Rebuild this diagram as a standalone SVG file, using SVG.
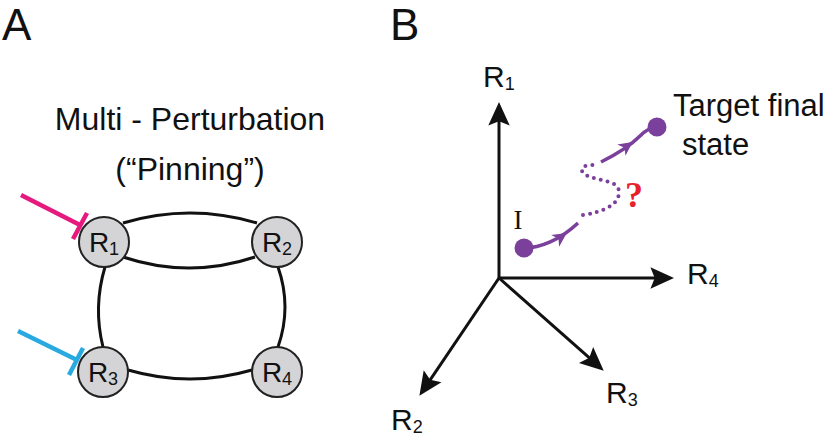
<svg xmlns="http://www.w3.org/2000/svg" width="834" height="437" viewBox="0 0 834 437">
<defs>
<style>
text{font-family:"Liberation Sans",Arial,sans-serif;fill:#111}
.panel{font-size:44px}
.title{font-size:32px}
.edge{fill:none;stroke:#111;stroke-width:3}
.node circle{fill:#d4d4d6;stroke:#222;stroke-width:2}
.nlab{font-size:28px}
.axis{stroke:#111;stroke-width:3;fill:none}
.alab{font-size:30px}
.traj{fill:none;stroke:#7b3f9c;stroke-width:3.5}
.dots{fill:none;stroke:#7b3f9c;stroke-width:4;stroke-linecap:round;stroke-dasharray:0 7}
.serif{font-family:"Liberation Serif","Times New Roman",serif}
</style>
<marker id="ah" markerUnits="userSpaceOnUse" markerWidth="30" markerHeight="30" viewBox="-2 -12 28 24" refX="8" refY="0" orient="auto">
<path d="M0,-10 L22,0 L0,10 L4,0 Z" fill="#111"/>
</marker>
</defs>
<rect width="834" height="437" fill="#fff"/>

<text class="panel" x="2" y="40">A</text>
<text class="panel" x="390" y="40">B</text>

<g id="title">
<text class="title" x="190" y="130" text-anchor="middle">Multi - Perturbation</text>
<text class="title" x="190" y="180" text-anchor="middle">(“Pinning”)</text>
</g>

<g id="connectors">
<path class="edge" d="M123,223 Q190,203 257,223"/>
<path class="edge" d="M123,257 Q189,279 255,257"/>
<path class="edge" d="M105,267 Q93,307 103,347"/>
<path class="edge" d="M278,267 Q292,307 278,347"/>
<path class="edge" d="M128,370 Q190,388 252,370"/>
<g id="pin-r1" stroke="#e5197e" stroke-width="4.5">
<line x1="21" y1="195" x2="80" y2="225"/>
<line x1="87" y1="213" x2="73" y2="239"/>
</g>
<g id="pin-r3" stroke="#28a9df" stroke-width="4.5">
<line x1="18" y1="331" x2="77" y2="360"/>
<line x1="83" y1="348" x2="69" y2="375"/>
</g>
</g>

<g id="R1" class="node"><circle cx="104" cy="242" r="25"/><text class="nlab" x="104" y="252" text-anchor="middle">R<tspan font-size="18" dy="3">1</tspan></text></g>
<g id="R2" class="node"><circle cx="277" cy="242" r="25"/><text class="nlab" x="277" y="252" text-anchor="middle">R<tspan font-size="18" dy="3">2</tspan></text></g>
<g id="R3" class="node"><circle cx="103" cy="372" r="25"/><text class="nlab" x="103" y="382" text-anchor="middle">R<tspan font-size="18" dy="3">3</tspan></text></g>
<g id="R4" class="node"><circle cx="277" cy="372" r="25"/><text class="nlab" x="277" y="382" text-anchor="middle">R<tspan font-size="18" dy="3">4</tspan></text></g>

<g id="axes">
<line class="axis" x1="499" y1="279" x2="499" y2="117" marker-end="url(#ah)"/>
<line class="axis" x1="498" y1="278" x2="659" y2="278" marker-end="url(#ah)"/>
<line class="axis" x1="499" y1="278" x2="427.8" y2="383.4" marker-end="url(#ah)"/>
<line class="axis" x1="499" y1="278" x2="592.5" y2="360.7" marker-end="url(#ah)"/>
<text class="alab" x="483" y="87">R<tspan font-size="18" dy="3">1</tspan></text>
<text class="alab" x="687" y="284">R<tspan font-size="18" dy="3">4</tspan></text>
<text class="alab" x="391" y="430">R<tspan font-size="18" dy="3">2</tspan></text>
<text class="alab" x="606" y="403">R<tspan font-size="18" dy="3">3</tspan></text>
</g>

<g id="trajectory">
<path class="traj" d="M524,248 C540,248 560,240 578,223"/>
<path class="dots" d="M583,215 C603,212 619,205 619,192 C619,180 598,181 588,176 C579,172 580,166 590,165 L597,165"/>
<path class="traj" d="M601,162 C615,155 628,148 640,136 C646,130 651,127 657,127"/>
<path d="M-7,-7 L7,0 L-7,7 L-3,0 Z" fill="#7b3f9c" transform="translate(561,237) rotate(-34)"/>
<path d="M-7,-7 L7,0 L-7,7 L-3,0 Z" fill="#7b3f9c" transform="translate(627,146) rotate(-36)"/>
<circle cx="524" cy="248" r="9.5" fill="#7b3f9c"/>
<circle cx="657" cy="127" r="9.5" fill="#7b3f9c"/>
<text class="serif" x="518" y="229" font-size="27" text-anchor="middle">I</text>
<text class="serif" x="634" y="207" font-size="36" font-weight="bold" text-anchor="middle" style="fill:#e8202a">?</text>
<text x="673" y="116" font-size="31">Target final</text>
<text x="682" y="155" font-size="31">state</text>
</g>
</svg>
